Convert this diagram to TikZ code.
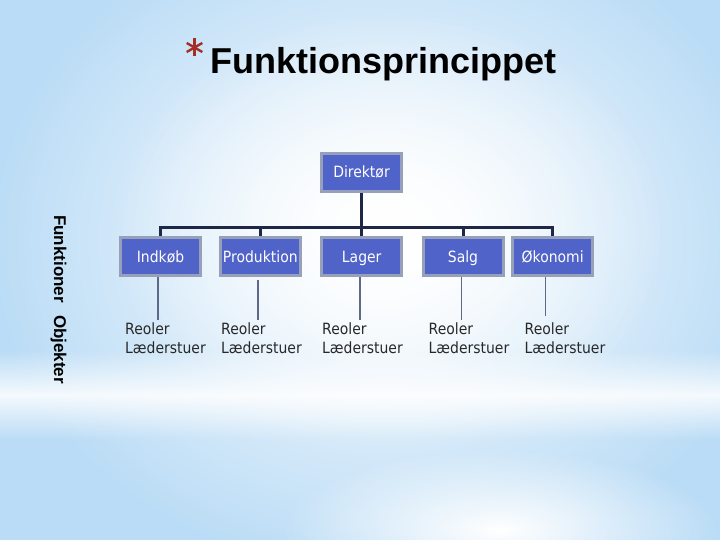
\documentclass[tikz,border=0pt]{standalone}
\usepackage{fontspec}
\setmainfont{Liberation Sans}
\newfontfamily\boxfont[FakeStretch=0.9]{DejaVu Sans}
\usetikzlibrary{fadings}
\definecolor{bgblue}{RGB}{186,220,246}
\definecolor{boxblue}{RGB}{80,99,200}
\definecolor{boxborder}{RGB}{150,160,186}
\definecolor{navy}{RGB}{30,40,70}
\definecolor{twiggray}{RGB}{95,105,135}
\definecolor{objgray}{RGB}{40,40,40}
\definecolor{astred}{RGB}{165,45,40}
\tikzfading[name=radfade, inner color=transparent!0, outer color=transparent!100]
\tikzfading[name=bandfade, top color=transparent!100, bottom color=transparent!100, middle color=transparent!15]
\tikzset{
  orgbox/.style={draw=boxborder, line width=3pt, fill=boxblue, text=white,
    minimum width=80pt, minimum height=38pt, inner sep=0pt,
    text height=12pt, text depth=0pt,
    font=\boxfont\fontsize{15.5}{18}\selectfont},
  objtext/.style={anchor=north west, align=left, inner sep=0pt, text=objgray,
    font=\boxfont\fontsize{15.5}{19.5}\selectfont},
  trunk/.style={draw=navy, line width=3pt},
  twig/.style={draw=twiggray, line width=1.3pt},
}
\begin{document}
\begin{tikzpicture}[x=1pt,y=-1pt]
\useasboundingbox (0,0) rectangle (720,540);
% background
\fill[bgblue] (0,0) rectangle (720,540);
\fill[white, path fading=radfade] (385,240) ellipse [x radius=400, y radius=340];
\fill[white, path fading=radfade] (390,230) ellipse [x radius=280, y radius=220];
\fill[white, path fading=bandfade] (0,350) rectangle (720,440);
\fill[white, path fading=radfade] (500,530) ellipse [x radius=220, y radius=80];
% title
\node[anchor=base west, inner sep=0pt, font=\fontsize{36}{40}\selectfont\bfseries] (title) at (210,74) {Funktionsprincippet};
\coordinate (ast) at (194.5,47.5);
\foreach \a in {90,30,150}
  \draw[astred, line width=2.4pt, shift={(ast)}] (\a:9) -- (\a+180:9);
% side label
\node[rotate=-90, anchor=base west, inner sep=0pt, font=\fontsize{17}{20}\selectfont\bfseries] (side) at (54,215) {Funktioner\hspace{12pt}Objekter};
% boxes
\node[orgbox, text height=11pt] (dir) at (361.5,172.5) {Direktør};
\node[orgbox] (ind) at (160.5,256.5) {Indkøb};
\node[orgbox] (pro) at (260.3,256.5) {Produktion};
\node[orgbox] (lag) at (361.7,256.5) {Lager};
\node[orgbox] (sal) at (463,256.5) {Salg};
\node[orgbox] (oko) at (552.7,256.5) {Økonomi};
% trunk lines
\coordinate (bar) at (361.5,228);
\draw[trunk] (dir.south) -- (dir.south |- bar);
\draw[trunk] (ind.north) |- (oko.north |- bar) -- (oko.north);
\foreach \n in {pro,lag,sal}
  \draw[trunk] (\n.north) -- (\n.north |- bar);
% object texts
\node[objtext] (o1) at (125,322.5) {Reoler\\Læderstuer};
\node[objtext] (o2) at (221,322.5) {Reoler\\Læderstuer};
\node[objtext] (o3) at (322,322.5) {Reoler\\Læderstuer};
\node[objtext] (o4) at (428.5,322.5) {Reoler\\Læderstuer};
\node[objtext] (o5) at (524.5,322.5) {Reoler\\Læderstuer};
% twigs
\coordinate (t1) at (158,320);
\coordinate (t2) at (258,320);
\coordinate (t3) at (360,320);
\coordinate (t4) at (461.7,320);
\coordinate (t5) at (545.3,315.5);
\draw[twig] (ind.south -| t1) -- (t1);
\draw[twig, shorten <=3pt] (pro.south -| t2) -- (t2);
\draw[twig] (lag.south -| t3) -- (t3);
\draw[twig] (sal.south -| t4) -- (t4);
\draw[twig] (oko.south -| t5) -- (t5);
\end{tikzpicture}
\end{document}
